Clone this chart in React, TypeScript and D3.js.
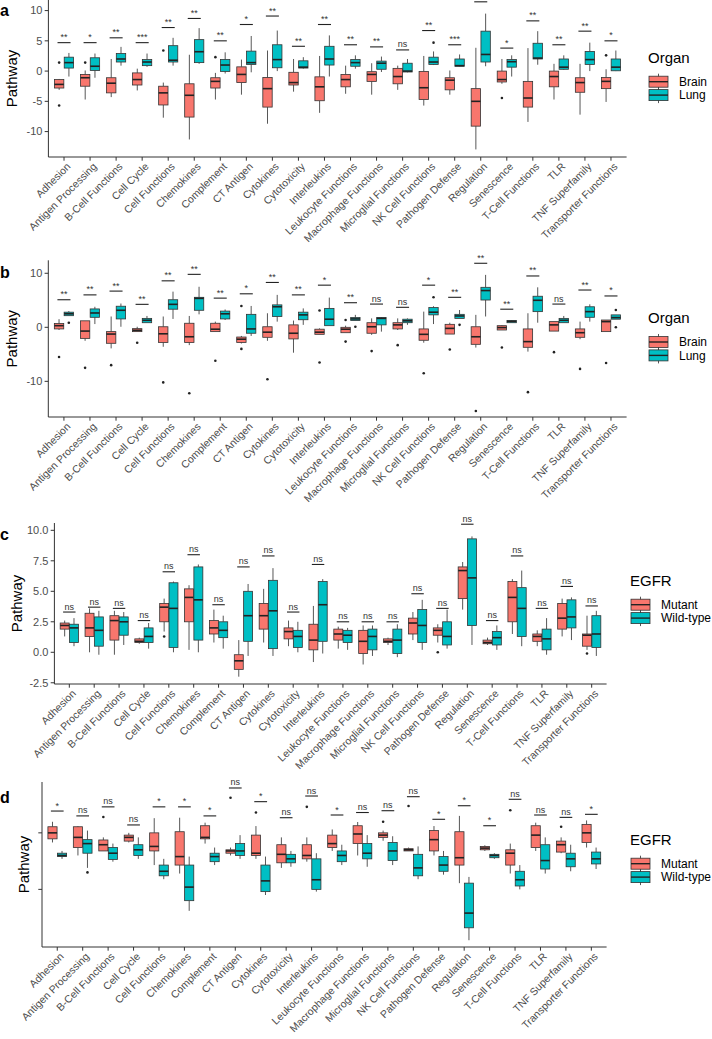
import React, { useRef, useEffect } from 'react';
import * as d3 from 'd3';

const categories = [
  'Adhesion', 'Antigen Processing', 'B-Cell Functions', 'Cell Cycle', 'Cell Functions',
  'Chemokines', 'Complement', 'CT Antigen', 'Cytokines', 'Cytotoxicity', 'Interleukins',
  'Leukocyte Functions', 'Macrophage Functions', 'Microglial Functions', 'NK Cell Functions',
  'Pathogen Defense', 'Regulation', 'Senescence', 'T-Cell Functions', 'TLR',
  'TNF Superfamily', 'Transporter Functions',
];

// every box row: [lower whisker, q1, median, q3, upper whisker]
// outliers: [category index, value]

// panel a, Organ
const aBrain = [
  [-3.1, -2.8, -2.2, -1.4, -1.3], [-4.7, -2.5, -1.1, -0.55, 0.1], [-4.3, -3.6, -2.0, -1.1, 2.0],
  [-3.2, -2.3, -1.4, -0.3, 0.4], [-7.7, -5.6, -3.6, -2.5, -1.9], [-11.3, -7.6, -4.0, -2.1, 2.7],
  [-4.7, -2.8, -1.7, -1.1, -0.3], [-3.9, -1.9, -0.55, 0.7, 1.9], [-8.7, -5.95, -2.9, -1.05, 3.4],
  [-3.4, -2.3, -1.9, -0.2, 2.0], [-6.9, -4.9, -2.6, -0.95, 2.5], [-3.75, -2.6, -1.4, -0.55, 0.9],
  [-3.9, -1.7, -0.55, -0.1, 1.3], [-3.1, -2.1, -0.9, 0.45, 0.9], [-5.7, -4.7, -2.75, -0.05, 2.5],
  [-3.9, -3.1, -1.5, -1.1, 0.1], [-12.95, -9.1, -5.0, -2.9, 3.85], [-2.1, -1.8, -1.4, 0, 2.0],
  [-8.4, -5.95, -4.45, -1.7, 3.8], [-4.7, -2.6, -0.9, 0, 1.2], [-7.2, -3.5, -1.9, -1.1, 1.2],
  [-5.1, -2.9, -1.7, -1.05, 0.3],
];
const aLung = [
  [-0.9, 0.5, 1.4, 2.3, 3.0], [-1.1, 0.1, 0.8, 2.2, 2.9], [0.9, 1.5, 2.0, 2.9, 4.0],
  [0.7, 0.9, 1.5, 1.9, 2.9], [0.9, 1.5, 1.8, 4.2, 5.5], [1.2, 1.4, 3.2, 5.2, 7.1],
  [-0.4, -0.05, 1.0, 1.9, 3.1], [-0.2, 1.1, 1.4, 3.3, 5.8], [0, 0.55, 1.9, 4.35, 6.7],
  [0.4, 0.5, 0.65, 1.7, 2.3], [-0.9, 1.0, 2.0, 4.1, 5.9], [0.4, 0.8, 1.4, 1.9, 2.6],
  [-0.15, 0.3, 1.3, 1.65, 2.4], [-0.2, -0.15, 0.0, 1.3, 2.0], [1.0, 1.1, 1.5, 2.3, 3.25],
  [0.75, 0.8, 0.9, 2.0, 2.75], [0.8, 1.5, 2.75, 6.6, 9.5], [-0.9, 0.65, 1.55, 1.9, 2.6],
  [1.05, 2.0, 2.15, 4.6, 6.6], [0.2, 0.3, 0.65, 2.0, 2.6], [0, 1.1, 1.9, 3.25, 4.7],
  [0, 0.05, 0.65, 2.0, 3.4],
];
const aBrainOut = [[0, 1.4], [0, -5.7], [1, 1.4], [4, 3.4], [6, 2.3], [17, -4.45], [21, 2.6]];
const aLungOut = [[14, 4.7]];
const aSig = ['**', '*', '**', '***', '**', '**', '**', '*', '**', '**', '**', '**', '**', 'ns', '**', '***', '**', '*', '**', '**', '**', '*'];
const aSigY = [4.7, 4.7, 5.5, 4.7, 7.2, 8.7, 5.0, 7.7, 9.1, 4.1, 7.7, 4.35, 4.0, 3.5, 6.7, 4.35, 11.45, 3.8, 8.3, 4.35, 6.6, 5.0];

// panel b, Organ
const bBrain = [
  [-0.5, -0.3, 0.3, 0.7, 1.5], [-2.5, -2.05, -0.7, 1.2, 1.2], [-3.9, -2.96, -1.25, -0.8, 2.0],
  [-0.8, -0.8, -0.55, -0.25, 0.1], [-3.6, -2.8, -1.2, 0.1, 2.0], [-3.3, -2.8, -1.75, 0.75, 2.1],
  [-0.8, -0.8, -0.35, 0.75, 1.05], [-3.0, -2.8, -2.2, -1.8, -1.6], [-2.5, -1.85, -0.9, 0.1, 2.6],
  [-4.7, -2.15, -1.1, 0.45, 1.25], [-1.3, -1.3, -0.9, -0.35, -0.2], [-1.0, -1.0, -0.35, 0, 0.3],
  [-1.4, -1.1, 0.1, 0.85, 1.65], [-0.5, -0.3, 0.45, 0.85, 1.65], [-2.85, -2.4, -1.3, -0.3, 2.9],
  [-1.25, -1.25, -0.2, 0.55, 0.85], [-3.75, -3.15, -1.75, 0.1, 2.3], [-0.5, -0.5, -0.05, 0.3, 0.4],
  [-4.5, -3.7, -2.65, -0.3, 2.6], [-0.7, -0.7, 0.45, 1.05, 1.05], [-2.2, -1.85, -1.0, -0.3, 1.05],
  [-0.8, -0.8, 1.05, 1.35, 1.35],
];
const bLung = [
  [2.15, 2.15, 2.5, 2.8, 3.0], [0.6, 1.85, 2.65, 3.4, 3.8], [0.1, 1.55, 3.15, 3.9, 4.4],
  [0.85, 0.85, 1.3, 1.65, 2.1], [1.55, 3.35, 4.25, 5.1, 6.6], [2.4, 3.15, 5.35, 5.55, 7.5],
  [1.35, 1.55, 2.5, 3.0, 3.3], [-1.6, -1.1, -0.3, 2.4, 3.95], [1.05, 2.0, 3.8, 4.15, 6.0],
  [0.45, 1.4, 2.3, 2.8, 3.5], [0.3, 0.3, 1.5, 3.5, 5.5], [1.25, 1.25, 1.55, 1.8, 2.3],
  [-0.8, 0.45, 1.65, 1.8, 1.9], [0.45, 0.85, 1.2, 1.5, 1.65], [0.6, 2.3, 2.8, 3.65, 3.9],
  [1.65, 1.65, 2.1, 2.4, 3.2], [2.0, 5.05, 6.8, 7.4, 9.7], [0.85, 0.85, 1.1, 1.25, 1.35],
  [0.85, 2.9, 5.0, 5.75, 7.4], [0.85, 0.85, 1.3, 1.65, 2.1], [1.05, 1.85, 2.9, 3.8, 4.25],
  [1.5, 1.5, 1.8, 2.3, 2.3],
];
const bBrainOut = [
  [0, -5.5], [1, -7.5], [2, -7], [3, -2.85], [4, -10.2], [5, -12.2], [6, -6.2], [7, 3.95], [7, -4.0],
  [8, -9.6], [10, 3.1], [10, -6.5], [11, 1.35], [11, -2.65], [12, -4.4], [13, -3.3], [14, -8.5],
  [15, -4.1], [16, -15.5], [17, -3.75], [18, -12], [19, -4.6], [20, -7.7], [21, -6.6],
];
const bLungOut = [[0, 0.85], [11, 0.1], [14, 5.55], [15, 0.45], [21, 3.2], [21, 0]];
const bSig = ['**', '**', '**', '**', '**', '**', '**', '*', '**', '**', '*', '**', 'ns', 'ns', '*', '**', '**', '**', '**', 'ns', '**', '*'];
const bSigY = [5.1, 6.0, 6.7, 4.25, 8.6, 9.8, 5.4, 6.2, 8.3, 6.0, 7.8, 4.55, 4.3, 3.7, 7.8, 5.55, 11.85, 3.35, 9.5, 4.3, 6.9, 5.8];

// panel c, EGFR
const cMutant = [
  [1.3, 1.9, 2.2, 2.4, 2.6], [0.0, 1.3, 2.0, 3.2, 3.6], [-0.2, 1.0, 2.6, 3.0, 3.4],
  [0.7, 0.8, 0.9, 1.1, 1.2], [1.7, 2.5, 3.7, 4.0, 4.4], [0.2, 2.5, 4.5, 5.2, 5.5],
  [0.8, 1.5, 2.0, 2.6, 3.5], [-2.0, -1.4, -0.7, -0.2, 1.0], [0.8, 1.9, 3.0, 4.0, 5.2],
  [0.5, 1.1, 1.7, 2.0, 2.6], [-0.8, 0.2, 1.0, 2.3, 3.8], [0.3, 1.0, 1.5, 1.9, 2.1],
  [-1.0, -0.1, 0.9, 1.8, 2.2], [0.6, 0.8, 0.9, 1.1, 1.2], [1.0, 1.5, 2.4, 2.8, 3.3],
  [0.8, 1.4, 1.8, 2.0, 2.3], [3.5, 4.4, 6.7, 7.0, 7.4], [0.6, 0.7, 0.8, 1.0, 1.2],
  [1.5, 2.5, 4.5, 5.8, 6.0], [0.5, 0.9, 1.3, 1.5, 1.8], [1.3, 1.9, 2.8, 4.0, 4.4],
  [0.2, 0.5, 1.4, 1.5, 3.0],
];
const cWild = [
  [0.5, 0.8, 2.0, 2.3, 2.8], [-0.2, 0.5, 1.8, 2.9, 3.4], [0.6, 1.4, 2.5, 2.9, 3.3],
  [0.3, 0.8, 1.3, 2.0, 2.4], [0.0, 0.4, 3.6, 5.7, 5.8], [0.0, 1.0, 4.3, 7.0, 7.2],
  [0.3, 1.2, 1.8, 2.5, 3.0], [-0.3, 0.9, 3.0, 5.0, 5.6], [-0.3, 0.3, 3.4, 5.9, 6.9],
  [0.0, 0.4, 1.3, 1.8, 2.5], [-0.1, 0.9, 3.9, 5.8, 6.0], [0.2, 0.8, 1.4, 1.8, 2.0],
  [-0.3, 0.2, 1.3, 1.9, 2.2], [-0.4, -0.1, 1.0, 1.9, 2.3], [0.2, 0.8, 2.2, 3.5, 4.3],
  [0.3, 0.6, 1.3, 2.5, 3.5], [0.6, 2.2, 6.1, 9.3, 9.5], [0.2, 0.6, 1.2, 1.7, 2.2],
  [0.5, 1.3, 3.6, 5.3, 6.7], [-0.2, 0.2, 1.1, 1.9, 2.8], [1.0, 2.0, 2.9, 4.3, 4.5],
  [-0.3, 0.4, 1.5, 3.0, 3.4],
];
const cMutantOut = [[4, 1.3], [15, 0.0], [21, -0.1]];
const cWildOut = [];
const cSig = categories.map(() => 'ns');
const cSigY = [3.3, 3.7, 3.6, 2.6, 6.6, 8.0, 3.9, 7.0, 7.9, 3.3, 7.2, 2.5, 2.5, 2.5, 4.8, 3.6, 10.5, 2.6, 7.9, 3.6, 5.4, 3.8];

// panel d, EGFR
const dMutant = [
  [-0.85, -0.53, 0.0, 0.54, 0.98], [-2.0, -1.3, -0.4, 0.54, 0.6], [-1.6, -1.6, -1.05, -0.63, -0.4],
  [-0.85, -0.73, -0.4, -0.2, 0], [-2.85, -1.6, -1.2, 0, 1.3], [-3.6, -2.85, -2.1, 0.1, 1.34],
  [-0.95, -0.53, -0.4, 0.63, 0.9], [-2.0, -1.8, -1.6, -1.5, -1.3], [-2.3, -2.0, -1.8, -0.2, 0.6],
  [-3.1, -2.65, -1.9, -1.05, -0.4], [-2.55, -2.3, -2.0, -1.05, -0.4], [-1.6, -1.3, -0.95, -0.2, 0.3],
  [-2.0, -0.95, -0.1, 0.63, 0.96], [-0.7, -0.4, -0.2, 0, 0.2], [-1.6, -1.6, -1.5, -1.4, -1.3],
  [-2.0, -1.6, -0.6, 0.2, 0.6], [-4.45, -2.85, -2.2, 0.1, 1.5], [-1.6, -1.5, -1.35, -1.2, -1.1],
  [-3.6, -2.85, -1.8, -1.5, -0.95], [-1.6, -1.3, -0.2, 0.63, 0.9], [-1.8, -1.7, -1.05, -0.73, -0.4],
  [-1.3, -0.85, 0.0, 0.75, 1.1],
];
const dWild = [
  [-2.3, -2.1, -2.0, -1.8, -1.6], [-3.1, -1.8, -0.95, -0.6, 0.2], [-2.55, -2.35, -1.8, -1.3, -0.95],
  [-2.3, -2.0, -1.5, -1.05, -0.4], [-4.1, -3.8, -3.4, -2.85, -2.3], [-6.9, -6.0, -4.8, -2.85, -2.1],
  [-2.85, -2.55, -2.1, -1.8, -1.3], [-2.3, -2.0, -1.6, -0.95, -0.2], [-5.5, -5.2, -4.25, -2.85, -2.1],
  [-3.0, -2.65, -2.3, -1.9, -1.6], [-5.2, -5.0, -4.15, -2.3, -1.8], [-2.85, -2.55, -2.0, -1.6, -1.05],
  [-3.0, -2.3, -1.8, -0.95, -0.2], [-2.85, -2.45, -1.6, -0.85, -0.3], [-4.1, -3.8, -3.1, -1.9, -1.2],
  [-3.7, -3.4, -2.85, -2.1, -1.6], [-9.5, -8.4, -7.1, -4.45, -3.9], [-2.3, -2.2, -2.0, -1.9, -1.8],
  [-5.0, -4.7, -4.15, -3.4, -2.85], [-3.6, -3.2, -2.45, -1.05, -0.4], [-3.4, -3.0, -2.3, -1.8, -1.05],
  [-3.2, -2.75, -2.3, -1.7, -1.3],
];
const dMutantOut = [[2, 1.4], [7, 3.1], [8, 1.8], [10, 2.3], [13, 0.98], [14, 2.38], [18, 2.0], [20, 0.54]];
const dWildOut = [[1, -3.5]];
const dSig = ['*', 'ns', 'ns', 'ns', '*', '*', '*', 'ns', '*', 'ns', 'ns', '*', 'ns', 'ns', 'ns', '*', '*', '*', 'ns', 'ns', 'ns', '*'];
const dSigY = [1.93, 1.5, 2.3, 0.7, 2.3, 2.3, 1.5, 3.97, 2.76, 1.34, 3.26, 1.58, 1.8, 1.96, 3.2, 1.2, 2.4, 0.63, 2.97, 1.58, 1.37, 1.64];

const RED = '#F8766D';
const TEAL = '#00BFC4';
const FONT = 'Liberation Sans, Arial, Helvetica, sans-serif';

const panels = [
  {
    letter: 'a', letterY: 16, top: 0, bottom: 157, left: 48.4, right: 626.6, domain: [-14.2, 11.75],
    ticks: [-10, -5, 0, 5, 10], fmt: (v) => String(v), titleX: 12,
    groups: [aBrain, aLung], outs: [aBrainOut, aLungOut], sig: aSig, sigY: aSigY,
    legendTitle: 'Organ', legendLabels: ['Brain', 'Lung'], legendX: 648,
  },
  {
    letter: 'b', letterY: 278, top: 260.3, bottom: 417, left: 48.3, right: 626.6, domain: [-16.6, 12.4],
    ticks: [-10, 0, 10], fmt: (v) => String(v), titleX: 12,
    groups: [bBrain, bLung], outs: [bBrainOut, bLungOut], sig: bSig, sigY: bSigY,
    legendTitle: 'Organ', legendLabels: ['Brain', 'Lung'], legendX: 648,
  },
  {
    letter: 'c', letterY: 540, top: 523, bottom: 684, left: 54.4, right: 606.6, domain: [-2.6, 10.6],
    ticks: [-2.5, 0, 2.5, 5, 7.5, 10], fmt: (v) => v.toFixed(1), titleX: 17,
    groups: [cMutant, cWild], outs: [cMutantOut, cWildOut], sig: cSig, sigY: cSigY,
    legendTitle: 'EGFR', legendLabels: ['Mutant', 'Wild-type'], legendX: 630,
  },
  {
    letter: 'd', letterY: 803, top: 782, bottom: 947, left: 42, right: 606.6, domain: [-10.1, 4.5],
    ticks: [-5, 0], fmt: null, titleX: 24,
    groups: [dMutant, dWild], outs: [dMutantOut, dWildOut], sig: dSig, sigY: dSigY,
    legendTitle: 'EGFR', legendLabels: ['Mutant', 'Wild-type'], legendX: 630,
  },
];

const drawPanel = (svg, p) => {
  const g = svg.append('g');
  const x = d3.scaleBand().domain(categories).range([p.left, p.right]).paddingInner(0).paddingOuter(0.1);
  const y = d3.scaleLinear().domain(p.domain).range([p.bottom, p.top]);
  const step = x.step();
  const cx = (i) => x(categories[i]) + x.bandwidth() / 2;
  const boxW = step * 0.36;
  const dodge = [-step * 0.1875, step * 0.1875];
  const fills = [RED, TEAL];

  // significance brackets
  p.sig.forEach((s, i) => {
    const yy = y(p.sigY[i]);
    g.append('line')
      .attr('x1', cx(i) - step * 0.25).attr('x2', cx(i) + step * 0.25)
      .attr('y1', yy).attr('y2', yy)
      .attr('stroke', '#222').attr('stroke-width', 1.1);
    g.append('text')
      .attr('x', cx(i)).attr('y', yy - 2.5)
      .attr('text-anchor', 'middle')
      .style('font-family', FONT).style('font-size', '9px').style('fill', '#333')
      .text(s);
  });

  // boxes
  p.groups.forEach((rows, k) => {
    rows.forEach((r, i) => {
      const bx = cx(i) + dodge[k];
      const [lo, q1, med, q3, hi] = r;
      g.append('line').attr('x1', bx).attr('x2', bx).attr('y1', y(hi)).attr('y2', y(q3))
        .attr('stroke', '#444').attr('stroke-width', 0.9);
      g.append('line').attr('x1', bx).attr('x2', bx).attr('y1', y(q1)).attr('y2', y(lo))
        .attr('stroke', '#444').attr('stroke-width', 0.9);
      g.append('rect')
        .attr('x', bx - boxW / 2).attr('width', boxW)
        .attr('y', y(q3)).attr('height', Math.max(y(q1) - y(q3), 0.5))
        .attr('fill', fills[k]).attr('stroke', '#333').attr('stroke-width', 0.8);
      g.append('line').attr('x1', bx - boxW / 2).attr('x2', bx + boxW / 2)
        .attr('y1', y(med)).attr('y2', y(med))
        .attr('stroke', '#222').attr('stroke-width', 1.6);
    });
    p.outs[k].forEach(([i, v]) => {
      g.append('circle').attr('cx', cx(i) + dodge[k]).attr('cy', y(v)).attr('r', 1.3).attr('fill', '#222');
    });
  });

  // axes
  g.append('line').attr('x1', p.left).attr('x2', p.left).attr('y1', p.top).attr('y2', p.bottom)
    .attr('stroke', '#333').attr('stroke-width', 1);
  g.append('line').attr('x1', p.left).attr('x2', p.right).attr('y1', p.bottom).attr('y2', p.bottom)
    .attr('stroke', '#333').attr('stroke-width', 1);

  p.ticks.forEach((t) => {
    g.append('line').attr('x1', p.left - 3.7).attr('x2', p.left).attr('y1', y(t)).attr('y2', y(t))
      .attr('stroke', '#333').attr('stroke-width', 1);
    if (p.fmt) {
      g.append('text')
        .attr('x', p.left - 6).attr('y', y(t)).attr('dy', '0.35em')
        .attr('text-anchor', 'end')
        .style('font-family', FONT).style('font-size', '11px').style('fill', '#4D4D4D')
        .text(p.fmt(t));
    }
  });

  categories.forEach((c, i) => {
    g.append('line').attr('x1', cx(i)).attr('x2', cx(i)).attr('y1', p.bottom).attr('y2', p.bottom + 3.7)
      .attr('stroke', '#333').attr('stroke-width', 1);
    g.append('text')
      .attr('transform', `translate(${cx(i) + 2},${p.bottom + 5}) rotate(-45)`)
      .attr('text-anchor', 'end').attr('dy', '0.7em')
      .style('font-family', FONT).style('font-size', '10.5px').style('fill', '#4D4D4D')
      .text(c);
  });

  // titles
  g.append('text')
    .attr('transform', `translate(${p.titleX},${(p.top + p.bottom) / 2}) rotate(-90)`)
    .attr('text-anchor', 'middle').attr('dy', '0.35em')
    .style('font-family', FONT).style('font-size', '15px').style('fill', '#000')
    .text('Pathway');
  g.append('text')
    .attr('x', 0).attr('y', p.letterY)
    .style('font-family', FONT).style('font-size', '16px').style('font-weight', 'bold').style('fill', '#000')
    .text(p.letter);

  // legend
  const lg = g.append('g').attr('transform', `translate(${p.legendX},${p.top})`);
  lg.append('text').attr('x', 0).attr('y', 63)
    .style('font-family', FONT).style('font-size', '15px').style('fill', '#000')
    .text(p.legendTitle);
  p.legendLabels.forEach((lab, k) => {
    const ky = 81.7 + k * 13.4;
    lg.append('line').attr('x1', 10.5).attr('x2', 10.5).attr('y1', ky - 8).attr('y2', ky + 8)
      .attr('stroke', '#444').attr('stroke-width', 0.9);
    lg.append('rect').attr('x', 1).attr('y', ky - 5.5).attr('width', 19).attr('height', 11)
      .attr('fill', fills[k]).attr('stroke', '#333').attr('stroke-width', 0.8);
    lg.append('line').attr('x1', 1).attr('x2', 20).attr('y1', ky).attr('y2', ky)
      .attr('stroke', '#222').attr('stroke-width', 1.4);
    lg.append('text').attr('x', 31).attr('y', ky).attr('dy', '0.35em')
      .style('font-family', FONT).style('font-size', '12px').style('fill', '#000')
      .text(lab);
  });
};

const BoxPanels = () => {
  const svgRef = useRef(null);

  useEffect(() => {
    document.body.style.margin = '0';
    const svg = d3.select(svgRef.current);
    svg.selectAll('*').remove();
    svg.append('rect').attr('width', 712).attr('height', 1039).attr('fill', '#fff');
    panels.forEach((p) => drawPanel(svg, p));
  }, []);

  return <svg ref={svgRef} width={712} height={1039} style={{ display: 'block' }} />;
};

export default function App() {
  return <BoxPanels />;
}
